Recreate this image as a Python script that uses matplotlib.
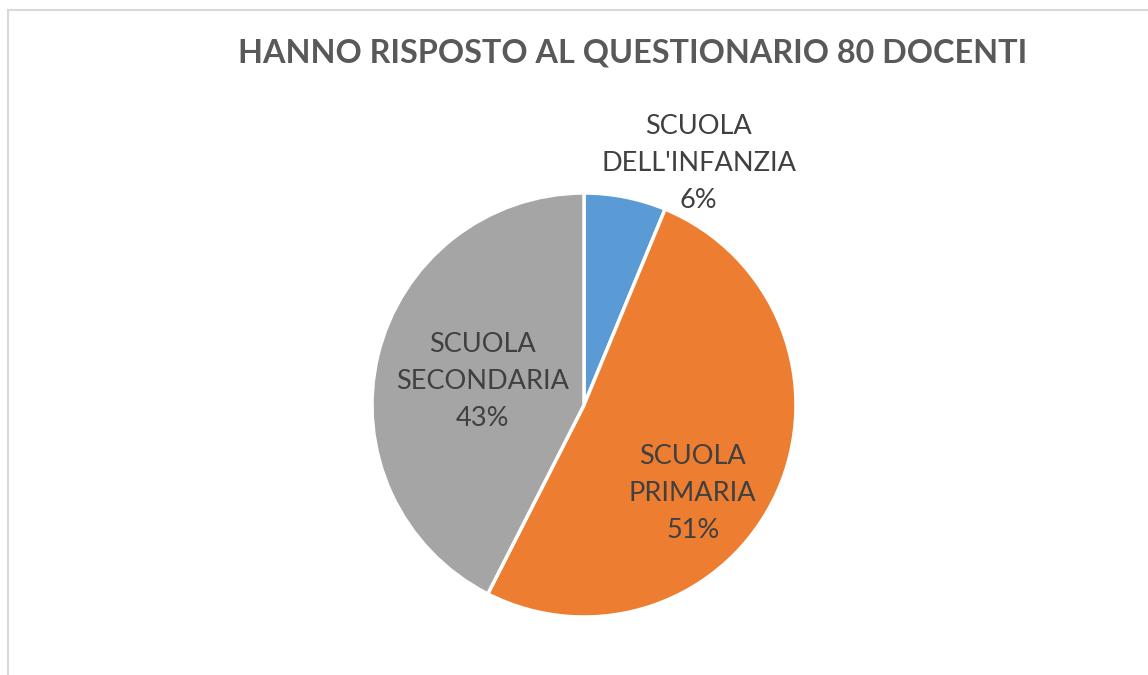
import numpy as np
import matplotlib
matplotlib.use("Agg")
import matplotlib.pyplot as plt

plt.rcParams['font.family'] = ['Lato', 'DejaVu Sans']

# data: 80 teachers who answered
categories = ["SCUOLA\nDELL'INFANZIA", "SCUOLA\nPRIMARIA", "SCUOLA\nSECONDARIA"]
counts = [5, 41, 34]
colors = ['#5B9BD5', '#ED7D31', '#A5A5A5']
title = "HANNO RISPOSTO AL QUESTIONARIO 80 DOCENTI"

# label placement (radius as fraction of pie radius, angle in degrees)
label_pos = [(1.26, 64.6), (0.66, -39.0), (0.49, 167.0)]

W, H = 1148, 675
fig = plt.figure(figsize=(W / 100, H / 100), dpi=100)

# chart frame (only top and left edges visible in the crop)
fig.add_artist(plt.Line2D([8 / W, 8 / W], [0, 1 - 10 / H], color='#D9D9D9', lw=1.5))
fig.add_artist(plt.Line2D([8 / W, 1], [1 - 10 / H, 1 - 10 / H], color='#D9D9D9', lw=1.5))

cx, cy, r = 584, 405, 212
ax = fig.add_axes([(cx - r) / W, (H - cy - r) / H, 2 * r / W, 2 * r / H])
wedges, _ = ax.pie(counts, colors=colors, startangle=90, counterclock=False,
                   radius=1, wedgeprops=dict(edgecolor='white', linewidth=2.5))
ax.set_xlim(-1, 1)
ax.set_ylim(-1, 1)
ax.set_aspect('equal')
ax.axis('off')

total = sum(counts)
for name, n, (rr, ang) in zip(categories, counts, label_pos):
    pct = int(100 * n / total + 0.5)  # round half up, like Excel
    x = rr * np.cos(np.radians(ang))
    y = rr * np.sin(np.radians(ang))
    ax.text(x, y, f"{name}\n{pct}%", ha='center', va='center', fontsize=19.5,
            color='#404040', linespacing=1.6, clip_on=False)

fig.text(633 / W, 1 - 53 / H, title, ha='center', va='center', fontsize=23.3,
         fontweight='bold', color='#595959')

fig.savefig('out.png', dpi=100)
